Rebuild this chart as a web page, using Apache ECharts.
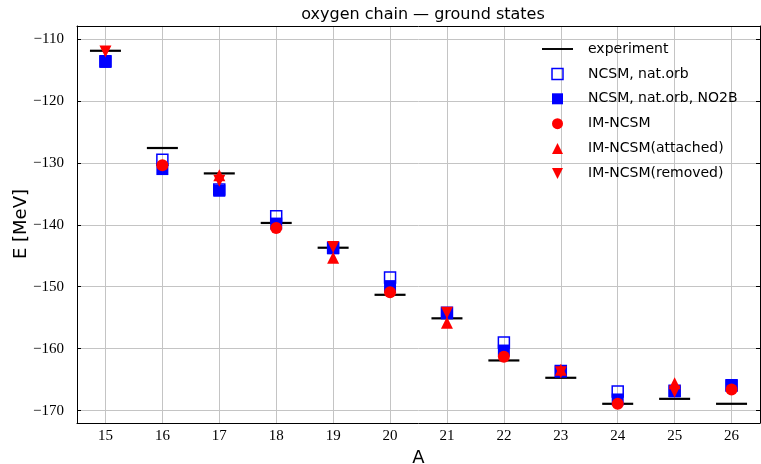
<!DOCTYPE html>
<html>
<head>
<meta charset="utf-8">
<script src="https://cdn.jsdelivr.net/npm/echarts@6/dist/echarts.min.js"></script>
<style>
  html, body { margin: 0; padding: 0; background: #fff; }
  #main { width: 761px; height: 464px; }
</style>
</head>
<body>
<div id="main"></div>
<script>
// mass number A
var massNumbers = ['15', '16', '17', '18', '19', '20', '21', '22', '23', '24', '25', '26'];
var yTicks = [-170, -160, -150, -140, -130, -120, -110];

// ground state energies [MeV], null = no point
var experiment   = [-111.9, -127.6, -131.7, -139.7, -143.7, -151.3, -155.1, -161.9, -164.7, -168.9, -168.1, -168.9];
var ncsmNatOrb   = [-113.6, -129.5, -134.3, -138.6, -143.7, -148.5, -154.2, -159.0, -163.6, -166.9, -166.8, -165.9];
var ncsmNO2B     = [-113.7, -131.0, -134.5, -139.8, -143.8, -149.9, -154.3, -160.3, -163.7, -168.2, -166.9, -166.0];
var imNcsm       = [null, -130.4, null, -140.5, null, -150.9, null, -161.3, null, -168.9, null, -166.6];
var imAttached   = [null, null, -132.0, null, -145.3, null, -155.8, null, -163.4, null, -165.6, null];
var imRemoved    = [-112.0, null, -132.9, null, -143.6, null, -154.2, null, -163.8, null, -166.9, null];

var square = 'path://M0,0L10,0L10,10L0,10Z';
var upTri = 'path://M5,0L10,10L0,10Z';
var downTri = 'path://M0,0L10,0L5,10Z';
var expIcon = 'path://M0,0L32,0L32,2L0,2Z';
var labelFont = 'Liberation Serif';
var textFont = 'DejaVu Sans';

function pairs(vals) {
  var out = [];
  vals.forEach(function (v, i) {
    if (v !== null) out.push([massNumbers[i], v]);
  });
  return out;
}

function scatter(name, vals, symbol, size, style) {
  style.opacity = 1;
  return {
    name: name,
    type: 'scatter',
    data: pairs(vals),
    symbol: symbol,
    symbolSize: size,
    itemStyle: style,
    emphasis: { disabled: true }
  };
}

var chart = echarts.init(document.getElementById('main'));
var option = {
  animation: false,
  backgroundColor: '#fff',
  title: {
    text: 'oxygen chain — ground states',
    left: 418,
    textAlign: 'center',
    top: 2,
    textStyle: { fontFamily: textFont, fontSize: 16, fontWeight: 'normal', color: '#000' }
  },
  // y axis title, placed by hand
  graphic: [{
    type: 'text',
    x: 21,
    y: 224,
    rotation: Math.PI / 2,
    style: {
      text: 'E [MeV]',
      font: '18px "DejaVu Sans"',
      fill: '#000',
      textAlign: 'center',
      textVerticalAlign: 'middle'
    }
  }],
  legend: {
    orient: 'vertical',
    left: 542,
    top: 42,
    padding: 0,
    itemWidth: 31,
    itemHeight: 11,
    itemGap: 10.9,
    textStyle: { fontFamily: textFont, fontSize: 14, color: '#000', lineHeight: 14, padding: [0, 0, 0, 10] },
    data: [
      { name: 'experiment', icon: expIcon, itemStyle: { color: '#000' } },
      { name: 'NCSM, nat.orb', icon: square, itemStyle: { color: 'rgba(0,0,0,0)', borderColor: '#0000ff', borderWidth: 1.5 } },
      { name: 'NCSM, nat.orb, NO2B', icon: square, itemStyle: { color: '#0000ff', borderWidth: 0 } },
      { name: 'IM-NCSM', icon: 'circle', itemStyle: { color: '#ff0000', borderWidth: 0 } },
      { name: 'IM-NCSM(attached)', icon: upTri, itemStyle: { color: '#ff0000', borderWidth: 0 } },
      { name: 'IM-NCSM(removed)', icon: downTri, itemStyle: { color: '#ff0000', borderWidth: 0 } }
    ]
  },
  grid: { left: 77, right: 1, top: 26, bottom: 41, outerBoundsMode: 'none' },
  xAxis: [{
    type: 'category',
    data: massNumbers,
    boundaryGap: true,
    name: 'A',
    nameLocation: 'middle',
    nameGap: 22,
    nameTextStyle: { fontFamily: textFont, fontSize: 18, color: '#000' },
    axisLine: { lineStyle: { color: '#000', width: 1 } },
    axisTick: { alignWithLabel: true, inside: false, length: 4, lineStyle: { color: '#000' } },
    axisLabel: { fontFamily: labelFont, fontSize: 15, color: '#000', margin: 6 },
    splitLine: { show: true, alignWithLabel: true, lineStyle: { color: '#c4c4c4', width: 1 } }
  }, {
    type: 'category',
    data: massNumbers,
    position: 'top',
    boundaryGap: true,
    axisLine: { lineStyle: { color: '#000', width: 1 } },
    axisTick: { alignWithLabel: true, inside: true, length: 4, lineStyle: { color: '#000' } },
    axisLabel: { show: false },
    splitLine: { show: false }
  }],
  yAxis: [{
    type: 'value',
    min: -172,
    max: -107.9,
    axisLine: { show: true, lineStyle: { color: '#000', width: 1 } },
    axisTick: { show: true, inside: true, length: 4, customValues: yTicks, lineStyle: { color: '#000' } },
    axisLabel: {
      fontFamily: labelFont, fontSize: 15, color: '#000', margin: 13,
      customValues: yTicks,
      formatter: function (v) { return '\u2212' + Math.abs(v); }
    },
    splitLine: { show: true, lineStyle: { color: '#c4c4c4', width: 1 } }
  }, {
    type: 'value',
    min: -172,
    max: -107.9,
    position: 'right',
    axisLine: { show: true, lineStyle: { color: '#000', width: 1 } },
    axisTick: { show: true, inside: true, length: 4, customValues: yTicks, lineStyle: { color: '#000' } },
    axisLabel: { show: false },
    splitLine: { show: false }
  }],
  series: [
    scatter('experiment', experiment, 'rect', [31, 2.2], { color: '#000' }),
    scatter('NCSM, nat.orb', ncsmNatOrb, square, 11, { color: 'rgba(0,0,0,0)', borderColor: '#0000ff', borderWidth: 1.5 }),
    scatter('NCSM, nat.orb, NO2B', ncsmNO2B, square, 12, { color: '#0000ff' }),
    scatter('IM-NCSM', imNcsm, 'circle', 12, { color: '#ff0000' }),
    scatter('IM-NCSM(attached)', imAttached, upTri, 12, { color: '#ff0000' }),
    scatter('IM-NCSM(removed)', imRemoved, downTri, 12, { color: '#ff0000' })
  ]
};
chart.setOption(option);
</script>
</body>
</html>
